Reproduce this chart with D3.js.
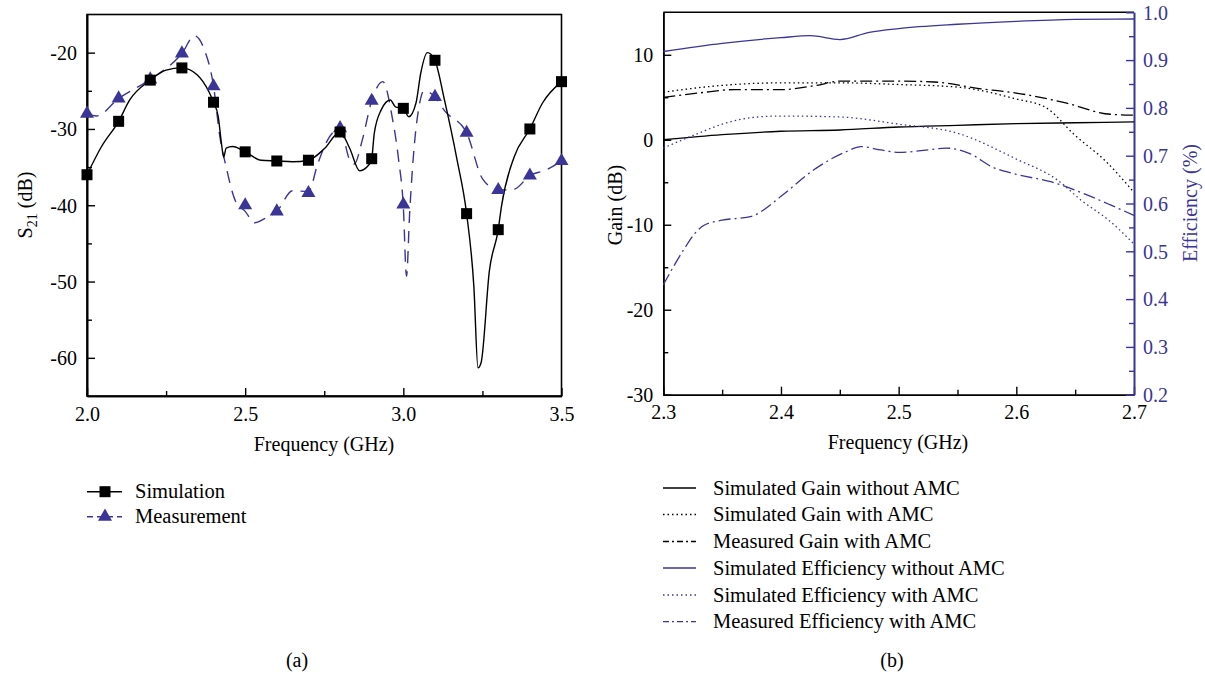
<!DOCTYPE html>
<html><head><meta charset="utf-8">
<script src="https://cdn.jsdelivr.net/npm/d3@7"></script>
<style>body{margin:0;background:#fff}svg{display:block}text{font-family:"Liberation Serif","Times New Roman",serif;}</style>
</head><body>
<svg id="c" width="1205" height="674"></svg>
<script>
// ---------- Chart (a) data ----------
const simFreq = [2.0,2.1,2.2,2.3,2.4,2.5,2.6,2.7,2.8,2.9,3.0,3.1,3.2,3.3,3.4,3.5];
const simVal  = [-36,-29,-23.6,-22,-26.5,-33,-34.2,-34.1,-30.4,-33.9,-27.3,-21,-41.1,-43.2,-30,-23.8];
const simCurveFreq = [2.0,2.046,2.1,2.135,2.2,2.25,2.3,2.348,2.385,2.4,2.415,2.425,2.432,2.44,2.46,2.5,2.55,2.6,2.65,2.7,2.75,2.8,2.83,2.862,2.885,2.9,2.908,2.93,2.959,2.975,3.0,3.017,3.04,3.055,3.076,3.087,3.1,3.13,3.17,3.2,3.223,3.236,3.246,3.272,3.3,3.31,3.35,3.4,3.44,3.5];
const simCurveVal  = [-36,-32.3,-29,-26.2,-23.6,-22.3,-22,-22.9,-25.1,-26.5,-28.4,-31.9,-33.7,-32.5,-32.3,-33,-34.1,-34.2,-34.3,-34.1,-32.6,-30.4,-32.5,-35.5,-35,-33.9,-30.6,-27.5,-26.2,-27.1,-27.3,-28.4,-26.6,-22.7,-20,-20.2,-21,-26.2,-34.1,-41.1,-50.7,-61.3,-60.6,-48.6,-43.2,-40.2,-33.7,-30,-26.6,-23.8];
const measFreq = [2.0,2.1,2.2,2.3,2.4,2.5,2.6,2.7,2.8,2.9,3.0,3.1,3.2,3.3,3.4,3.5];
const measVal  = [-28,-26,-23.5,-20.1,-24.4,-40,-40.8,-38.4,-29.9,-26.3,-39.9,-25.8,-30.5,-38,-36.1,-34.2];
const measCurveFreq = [2.0,2.03,2.1,2.2,2.3,2.34,2.37,2.4,2.42,2.44,2.47,2.5,2.53,2.56,2.6,2.65,2.7,2.73,2.76,2.8,2.83,2.845,2.87,2.9,2.935,2.965,2.985,3.0,3.01,3.02,3.035,3.05,3.065,3.1,3.13,3.2,3.25,3.3,3.35,3.4,3.45,3.5];
const measCurveVal  = [-28,-28.3,-26,-23.5,-20.1,-17.8,-19.5,-24.4,-31,-35,-39.5,-40.8,-42.3,-41.8,-40.8,-38.1,-38.2,-34.5,-31.5,-29.9,-34,-34.6,-31.5,-26.3,-23.8,-28.5,-34,-40.2,-49.3,-41,-32,-27,-25,-25.8,-27.6,-30.5,-36.5,-38,-37.9,-36.1,-35.4,-34.2];
const aXTicks = [2.0,2.5,3.0,3.5];
const aXMinor = [2.25,2.75,3.25];
const aYTicks = [-20,-30,-40,-50,-60];
const aYMinor = [-25,-35,-45,-55];

// ---------- Chart (b) data ----------
const gainNoAmcFreq = [2.3,2.35,2.4,2.45,2.5,2.55,2.6,2.65,2.7];
const gainNoAmc     = [0,0.6,1.0,1.15,1.5,1.7,1.9,2.0,2.1];
const gainAmcFreq   = [2.3,2.35,2.4,2.45,2.5,2.55,2.6,2.625,2.65,2.675,2.7];
const gainAmc       = [5.6,6.4,6.7,6.7,6.5,6.2,4.8,3.8,0.5,-2.4,-6.2];
const gainMeasFreq  = [2.3,2.33,2.36,2.4,2.43,2.45,2.5,2.53,2.57,2.6,2.64,2.68,2.7];
const gainMeas      = [5.0,5.5,5.9,5.9,6.4,6.9,6.9,6.8,6.0,5.5,4.4,3.0,2.9];
const effNoAmcFreq  = [2.3,2.35,2.4,2.425,2.45,2.475,2.5,2.55,2.6,2.65,2.7];
const effNoAmc      = [0.918,0.935,0.947,0.951,0.943,0.958,0.966,0.975,0.981,0.985,0.986];
const effAmcFreq    = [2.3,2.33,2.35,2.38,2.4,2.45,2.5,2.55,2.6,2.635,2.655,2.68,2.7];
const effAmc        = [0.716,0.747,0.766,0.781,0.783,0.781,0.766,0.747,0.693,0.649,0.607,0.562,0.515];
const effMeasFreq   = [2.3,2.318,2.327,2.335,2.35,2.375,2.383,2.4,2.43,2.455,2.468,2.485,2.5,2.525,2.54,2.56,2.58,2.6,2.63,2.66,2.68,2.7];
const effMeas       = [0.43,0.506,0.538,0.555,0.565,0.573,0.583,0.615,0.674,0.708,0.719,0.712,0.707,0.712,0.716,0.705,0.676,0.661,0.645,0.618,0.597,0.575];
const bXTicks = [2.3,2.4,2.5,2.6,2.7];
const bXMinor = [2.35,2.45,2.55,2.65];
const bGainTicks = [-30,-20,-10,0,10];
const bGainMinor = [-25,-15,-5,5];
const bEffTicks = [0.2,0.3,0.4,0.5,0.6,0.7,0.8,0.9,1.0];
const bEffMinor = [0.25,0.35,0.45,0.55,0.65,0.75,0.85,0.95];

const legendA = ["Simulation","Measurement"];
const legendB = ["Simulated Gain without AMC","Simulated Gain with AMC","Measured Gain with AMC","Simulated Efficiency without AMC","Simulated Efficiency with AMC","Measured Efficiency with AMC"];

// ---------- drawing ----------
const BLUE = "#3a3597";
const FS = 20;
const svg = d3.select("#c");
const intFmt = d => String(d);   // plain hyphen-minus as in the reference
const oneFmt = d => d.toFixed(1);

function styleAxis(g, color){
  g.selectAll("path.domain").attr("stroke", color).attr("stroke-width", 1.6);
  g.selectAll(".tick line").attr("stroke", color).attr("stroke-width", 1.4);
  g.selectAll(".tick text").attr("fill", color).attr("font-size", FS).attr("font-family", '"Liberation Serif",serif');
}

// ===== Chart (a) =====
const ax = d3.scaleLinear().domain([2.0,3.5]).range([87,561.5]);
const ay = d3.scaleLinear().domain([-65,-15]).range([396,14.5]);
const ga = svg.append("g");
ga.append("rect").attr("x",87).attr("y",14.5).attr("width",561.5-87).attr("height",396-14.5)
  .attr("fill","none").attr("stroke","#000").attr("stroke-width",1.6);
ga.append("g").attr("transform","translate(0,396)")
  .call(d3.axisBottom(ax).tickValues(aXTicks).tickFormat(oneFmt).tickSize(-8).tickSizeOuter(0).tickPadding(18))
  .call(g=>styleAxis(g,"#000"));
ga.append("g").attr("transform","translate(0,396)")
  .call(d3.axisBottom(ax).tickValues(aXMinor).tickFormat("").tickSize(-5).tickSizeOuter(0))
  .call(g=>styleAxis(g,"#000"));
ga.append("g").attr("transform","translate(87,0)")
  .call(d3.axisLeft(ay).tickValues(aYTicks).tickFormat(intFmt).tickSize(-8).tickSizeOuter(0).tickPadding(10))
  .call(g=>styleAxis(g,"#000"));
ga.append("g").attr("transform","translate(87,0)")
  .call(d3.axisLeft(ay).tickValues(aYMinor).tickFormat("").tickSize(-5).tickSizeOuter(0))
  .call(g=>styleAxis(g,"#000"));
ga.selectAll(".tick text").attr("dy","0.34em");

const lineA = d3.line().curve(d3.curveMonotoneX).x(d=>ax(d[0])).y(d=>ay(d[1]));
ga.append("path").datum(measCurveFreq.map((f,i)=>[f,measCurveVal[i]]))
  .attr("d",lineA).attr("fill","none").attr("stroke",BLUE).attr("stroke-width",1.4).attr("stroke-dasharray","12,8");
ga.append("path").datum(simCurveFreq.map((f,i)=>[f,simCurveVal[i]]))
  .attr("d",lineA).attr("fill","none").attr("stroke","#000").attr("stroke-width",1.4);
const tri = d3.symbol().type(d3.symbolTriangle).size(85);
ga.selectAll("path.tri").data(measFreq.map((f,i)=>[f,measVal[i]])).enter().append("path")
  .attr("class","tri").attr("d",tri).attr("transform",d=>`translate(${ax(d[0])},${ay(d[1])})`).attr("fill",BLUE);
ga.selectAll("rect.sq").data(simFreq.map((f,i)=>[f,simVal[i]])).enter().append("rect")
  .attr("class","sq").attr("x",d=>ax(d[0])-5.5).attr("y",d=>ay(d[1])-5.5).attr("width",11).attr("height",11).attr("fill","#000");

const ylab = ga.append("text").attr("transform","translate(32,205) rotate(-90)").attr("text-anchor","middle").attr("font-size",FS);
ylab.append("tspan").text("S");
ylab.append("tspan").attr("font-size",14).attr("dy",5).text("21");
ylab.append("tspan").attr("dy",-5).text(" (dB)");
ga.append("text").attr("x",324).attr("y",451).attr("text-anchor","middle").attr("font-size",FS).text("Frequency (GHz)");
ga.append("text").attr("x",297).attr("y",667).attr("text-anchor","middle").attr("font-size",FS).text("(a)");

// legend (a)
const lgA = ga.append("g");
[[491.7,"#000","none","sq"],[516.7,BLUE,"6,4","tri"]].forEach((r,i)=>{
  lgA.append("line").attr("x1",87).attr("x2",122).attr("y1",r[0]).attr("y2",r[0]).attr("stroke",r[1]).attr("stroke-width",1.4).attr("stroke-dasharray",r[2]==="none"?null:r[2]);
  if(r[3]==="sq") lgA.append("rect").attr("x",99.5).attr("y",r[0]-5.5).attr("width",11).attr("height",11).attr("fill","#000");
  else lgA.append("path").attr("d",tri).attr("transform",`translate(105,${r[0]})`).attr("fill",BLUE);
  lgA.append("text").attr("x",135).attr("y",r[0]+6.5).attr("font-size",20.5).text(legendA[i]);
});

// ===== Chart (b) =====
const bx = d3.scaleLinear().domain([2.3,2.7]).range([663.3,1134]);
const by = d3.scaleLinear().domain([-30,15]).range([394.7,12.3]);
const be = d3.scaleLinear().domain([0.2,1.0]).range([394.7,12.3]);
const gb = svg.append("g");
gb.append("line").attr("x1",663.3).attr("x2",1134).attr("y1",12.3).attr("y2",12.3).attr("stroke","#000").attr("stroke-width",1.6);
gb.append("g").attr("transform","translate(0,394.7)")
  .call(d3.axisBottom(bx).tickValues(bXTicks).tickFormat(oneFmt).tickSize(-8).tickSizeOuter(0).tickPadding(18))
  .call(g=>styleAxis(g,"#000"));
gb.append("g").attr("transform","translate(0,394.7)")
  .call(d3.axisBottom(bx).tickValues(bXMinor).tickFormat("").tickSize(-5).tickSizeOuter(0))
  .call(g=>styleAxis(g,"#000"));
gb.append("g").attr("transform","translate(663.3,0)")
  .call(d3.axisLeft(by).tickValues(bGainTicks).tickFormat(intFmt).tickSize(-8).tickSizeOuter(0).tickPadding(10))
  .call(g=>styleAxis(g,"#000"));
gb.append("g").attr("transform","translate(663.3,0)")
  .call(d3.axisLeft(by).tickValues(bGainMinor).tickFormat("").tickSize(-5).tickSizeOuter(0))
  .call(g=>styleAxis(g,"#000"));
gb.append("g").attr("transform","translate(1134,0)")
  .call(d3.axisRight(be).tickValues(bEffTicks).tickFormat(oneFmt).tickSize(-8).tickSizeOuter(0).tickPadding(9))
  .call(g=>styleAxis(g,BLUE));
gb.append("g").attr("transform","translate(1134,0)")
  .call(d3.axisRight(be).tickValues(bEffMinor).tickFormat("").tickSize(-5).tickSizeOuter(0))
  .call(g=>styleAxis(g,BLUE));
gb.selectAll(".tick text").attr("dy","0.34em");

const DOT = "1.5,3", DASHDOT = "12,4,2,4";
const seriesB = [
  {f:gainNoAmcFreq, v:gainNoAmc, s:by, c:"#000", d:null},
  {f:gainAmcFreq, v:gainAmc, s:by, c:"#000", d:DOT},
  {f:gainMeasFreq, v:gainMeas, s:by, c:"#000", d:DASHDOT},
  {f:effNoAmcFreq, v:effNoAmc, s:be, c:BLUE, d:null},
  {f:effAmcFreq, v:effAmc, s:be, c:BLUE, d:DOT},
  {f:effMeasFreq, v:effMeas, s:be, c:BLUE, d:DASHDOT}
];
seriesB.forEach(S=>{
  const ln = d3.line().curve(d3.curveMonotoneX).x(d=>bx(d[0])).y(d=>S.s(d[1]));
  gb.append("path").datum(S.f.map((f,i)=>[f,S.v[i]])).attr("d",ln).attr("fill","none")
    .attr("stroke",S.c).attr("stroke-width",1.3).attr("stroke-dasharray",S.d);
});

gb.append("text").attr("transform","translate(622,205) rotate(-90)").attr("text-anchor","middle").attr("font-size",FS).text("Gain (dB)");
gb.append("text").attr("transform","translate(1197,203) rotate(-90)").attr("text-anchor","middle").attr("font-size",FS).attr("fill",BLUE).text("Efficiency (%)");
gb.append("text").attr("x",898).attr("y",449).attr("text-anchor","middle").attr("font-size",FS).text("Frequency (GHz)");
gb.append("text").attr("x",892).attr("y",667).attr("text-anchor","middle").attr("font-size",FS).text("(b)");

// legend (b)
const lgRows = [488,514.5,541.5,568,595,621.7];
const lgStyles = [["#000",null],["#000","1.5,3"],["#000","6,3,2,3"],[BLUE,null],[BLUE,"1.5,3"],[BLUE,"6,3,2,3"]];
lgRows.forEach((y,i)=>{
  gb.append("line").attr("x1",663).attr("x2",696).attr("y1",y).attr("y2",y).attr("stroke",lgStyles[i][0]).attr("stroke-width",1.3).attr("stroke-dasharray",lgStyles[i][1]);
  gb.append("text").attr("x",713).attr("y",y+6.5).attr("font-size",20.5).text(legendB[i]);
});
</script>
</body></html>
